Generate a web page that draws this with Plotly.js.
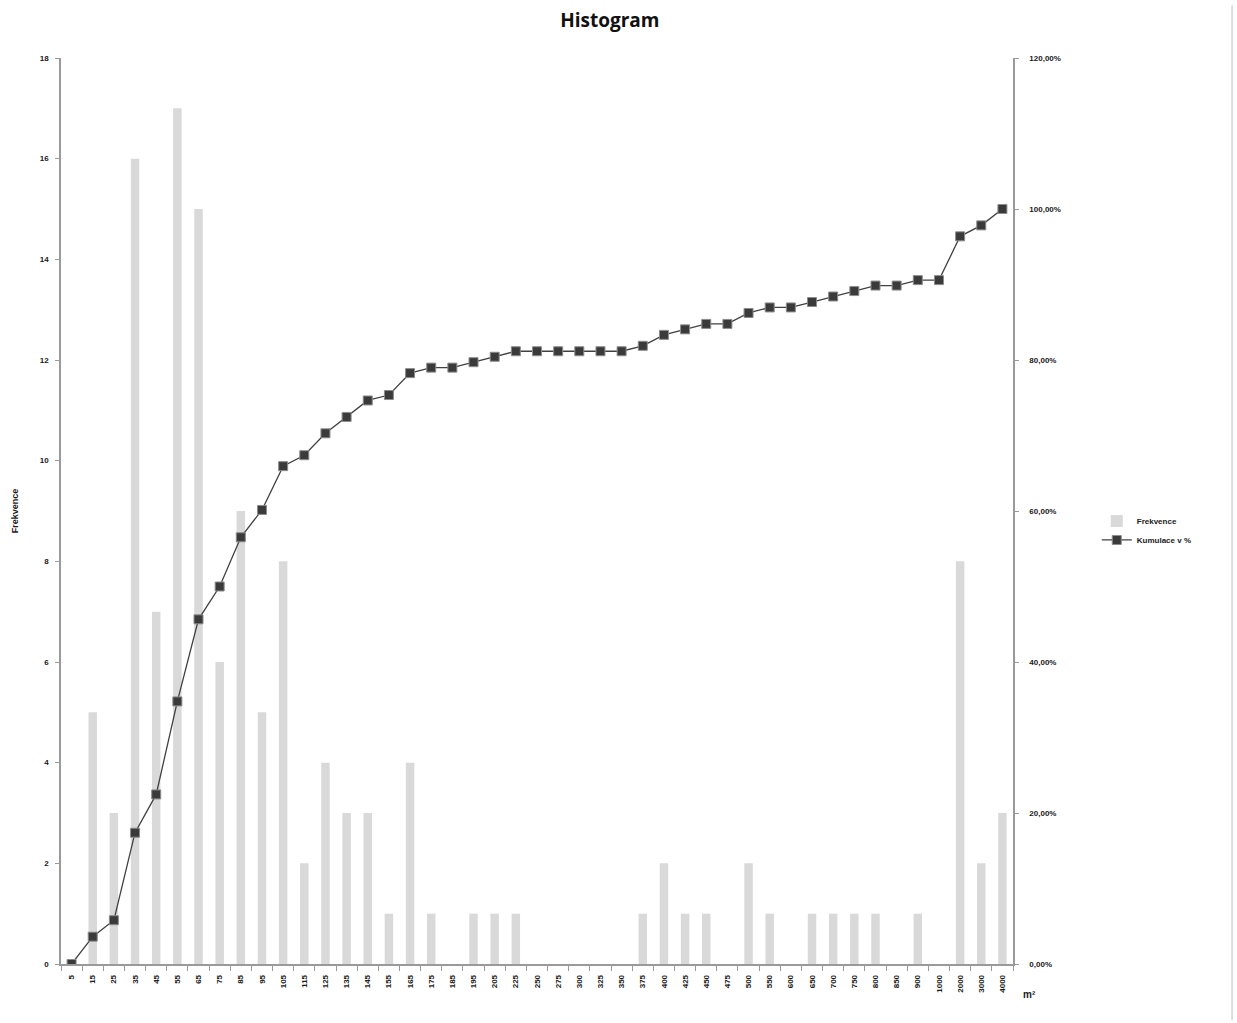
<!DOCTYPE html>
<html>
<head>
<meta charset="utf-8">
<script src="https://cdn.plot.ly/plotly-3.0.1.min.js"></script>
<style>
  html, body { margin: 0; padding: 0; background: #fff; }
  #chart { width: 1237px; height: 1023px; }
</style>
</head>
<body>
<div id="chart"></div>
<script>
// Category bins (m²)
const categories = ["5","15","25","35","45","55","65","75","85","95","105","115","125","135","145","155","165","175","185","195","205","225","250","275","300","325","350","375","400","425","450","475","500","550","600","650","700","750","800","850","900","1000","2000","3000","4000"];

// Frequency (Frekvence)
const frekvence = [0,5,3,16,7,17,15,6,9,5,8,2,4,3,3,1,4,1,0,1,1,1,0,0,0,0,0,1,2,1,1,0,2,1,0,1,1,1,1,0,1,0,8,2,3];

// Cumulative share (Kumulace v %), as fractions
const kumulace = [0,0.0362,0.0580,0.1739,0.2246,0.3478,0.4565,0.5000,0.5652,0.6014,0.6594,0.6739,0.7029,0.7246,0.7464,0.7536,0.7826,0.7899,0.7899,0.7971,0.8043,0.8116,0.8116,0.8116,0.8116,0.8116,0.8116,0.8188,0.8333,0.8406,0.8478,0.8478,0.8623,0.8696,0.8696,0.8768,0.8841,0.8913,0.8986,0.8986,0.9058,0.9058,0.9638,0.9783,1.0000];

const leftTicks = [0,2,4,6,8,10,12,14,16,18];
const rightTicks = [0,0.2,0.4,0.6,0.8,1.0,1.2];

const tickFont = {family: "Liberation Sans, Arial, sans-serif", size: 8, color: "#1a1a1a", weight: "bold"};
const axisGray = "#9a9a9a";

const traces = [
  {
    type: "bar",
    name: "Frekvence",
    x: categories,
    y: frekvence,
    marker: {color: "#d9d9d9"},
    hoverinfo: "x+y"
  },
  {
    type: "scatter",
    mode: "lines+markers",
    name: "Kumulace v %",
    x: categories,
    y: kumulace,
    yaxis: "y2",
    line: {color: "#404040", width: 1.3},
    marker: {symbol: "square", size: 9, color: "#3a3a3a", line: {color: "#8c8c8c", width: 1}}
  }
];

const layout = {
  width: 1237,
  height: 1023,
  paper_bgcolor: "#ffffff",
  plot_bgcolor: "#ffffff",
  margin: {l: 61, r: 224, t: 58, b: 59},
  separators: ", ",
  bargap: 0.6,
  showlegend: true,
  title: {
    text: "<b>Histogram</b>",
    x: 0.493, xanchor: "center",
    y: 0.98, yanchor: "middle",
    font: {family: "Open Sans, Liberation Sans, sans-serif", size: 19, color: "#111"}
  },
  xaxis: {
    type: "category",
    tickson: "boundaries",
    ticks: "outside",
    ticklen: 5,
    tickcolor: axisGray,
    tickangle: -90,
    tickfont: tickFont,
    ticklabelstandoff: 6,
    showline: true,
    linecolor: axisGray,
    linewidth: 1.5,
    showgrid: false,
    zeroline: false,
    range: [-0.5, categories.length - 0.5],
    fixedrange: true
  },
  yaxis: {
    range: [0, 18],
    tickvals: leftTicks,
    ticks: "outside",
    ticklen: 4,
    tickcolor: axisGray,
    tickfont: tickFont,
    ticklabelstandoff: 5,
    showline: true,
    linecolor: axisGray,
    linewidth: 1.5,
    showgrid: false,
    zeroline: false,
    title: {text: "<b>Frekvence</b>", font: {family: "Liberation Sans, Arial, sans-serif", size: 9, color: "#1a1a1a"}, standoff: 20}
  },
  yaxis2: {
    overlaying: "y",
    side: "right",
    range: [0, 1.2],
    tickvals: rightTicks,
    tickformat: ".2%",
    ticks: "outside",
    ticklen: 4,
    tickcolor: axisGray,
    tickfont: tickFont,
    ticklabelstandoff: 9,
    showline: true,
    linecolor: axisGray,
    linewidth: 1.5,
    showgrid: false,
    zeroline: false
  },
  legend: {
    x: 1.088, y: 0.505,
    xanchor: "left", yanchor: "top",
    font: {family: "Liberation Sans, Arial, sans-serif", size: 8, color: "#1a1a1a", weight: "bold"},
    itemwidth: 30,
    entrywidth: 0,
    bgcolor: "rgba(0,0,0,0)",
    tracegroupgap: 0
  },
  annotations: [
    {
      text: "<b>m²</b>",
      xref: "paper", yref: "paper",
      x: 1.008, y: -0.034,
      xanchor: "left", yanchor: "middle",
      showarrow: false,
      font: {family: "Liberation Sans, Arial, sans-serif", size: 10, color: "#1a1a1a"}
    }
  ],
  shapes: [
    {
      type: "line",
      xref: "paper", yref: "paper",
      x0: 1.2301, x1: 1.2301, y0: -0.062, y1: 1.058,
      line: {color: "#d4d4d4", width: 1.5}
    }
  ]
};

Plotly.newPlot("chart", traces, layout, {displayModeBar: false, responsive: false});
</script>
</body>
</html>
